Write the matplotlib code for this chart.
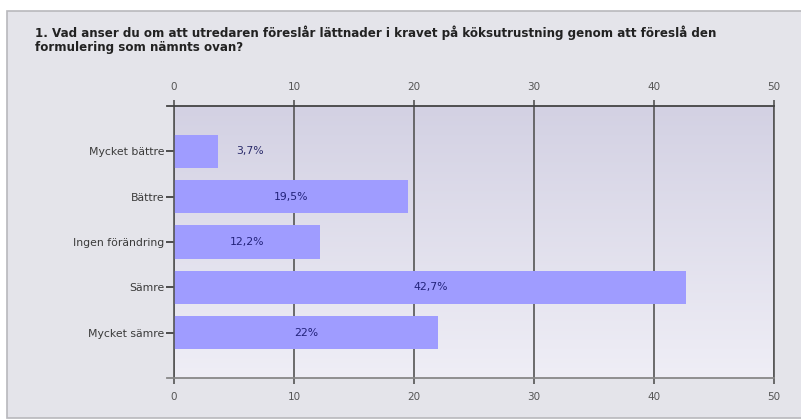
import numpy as np
import matplotlib
matplotlib.use("Agg")
import matplotlib.pyplot as plt
from matplotlib.patches import Rectangle
from matplotlib.colors import LinearSegmentedColormap
from matplotlib.transforms import blended_transform_factory

title = ("1. Vad anser du om att utredaren föreslår lättnader i kravet på köksutrustning genom att föreslå den\n"
         "formulering som nämnts ovan?")
categories = ["Mycket bättre", "Bättre", "Ingen förändring", "Sämre", "Mycket sämre"]
values = [3.7, 19.5, 12.2, 42.7, 22.0]
labels = ["3,7%", "19,5%", "12,2%", "42,7%", "22%"]
xticks = [0, 10, 20, 30, 40, 50]

W, H = 801, 420
fig = plt.figure(figsize=(W / 100, H / 100), dpi=100)
fig.patch.set_facecolor("white")

# grey panel
fig.patches.append(Rectangle((7 / W, 2 / H), 1 - 7 / W + 0.01, (418 - 11) / H,
                             transform=fig.transFigure, facecolor="#e4e4ea",
                             edgecolor="#b8b8bc", linewidth=1.2, zorder=-5))

fig.text(35 / W, 1 - 25 / H, title, ha="left", va="top", fontsize=8.55,
         fontweight="bold", color="#222222", linespacing=1.12)

left, right, top, bottom = 174, 774, 106, 378
ax = fig.add_axes([left / W, 1 - bottom / H, (right - left) / W, (bottom - top) / H])
ax.set_xlim(0, 50)
ax.set_ylim(5, -1)

# gradient background (dark at top, light at bottom)
cmap = LinearSegmentedColormap.from_list("g", ["#d3d1e3", "#efeef6"])
grad = np.linspace(0, 1, 256).reshape(-1, 1)
ax.imshow(grad, cmap=cmap, aspect="auto", extent=[0, 1, 0, 1],
          origin="upper", transform=ax.transAxes, zorder=0)
ax.set_facecolor("none")

y = np.arange(len(categories))
ax.barh(y, values, height=0.73, color="#9f9cff", zorder=2)

for yi, v, lab in zip(y, values, labels):
    if v < 8:
        ax.text(v + 1.5, yi, lab, ha="left", va="center", fontsize=7.8,
                color="#2a2a6a", zorder=3)
    else:
        ax.text(v / 2, yi, lab, ha="center", va="center", fontsize=7.8,
                color="#22227a", zorder=3)

ax.set_xticks(xticks)
ax.xaxis.grid(True, color="#555555", linewidth=1.2, zorder=1)
ax.set_axisbelow(True)
ax.tick_params(axis="x", which="both", top=True, labeltop=True, bottom=True,
               labelbottom=True, length=4, width=1.2, color="#555555",
               labelsize=7.5, labelcolor="#555555", pad=6)
ax.set_yticks(y)
ax.set_yticklabels(categories)
ax.tick_params(axis="y", length=6, width=1.2, color="#333333", labelsize=7.8,
               labelcolor="#3a3a3a", pad=1)

ax.spines["top"].set_color("#444444")
ax.spines["top"].set_linewidth(1.3)
ax.spines["bottom"].set_color("#888888")
ax.spines["bottom"].set_linewidth(1.3)
ax.spines["left"].set_color("#555555")
ax.spines["left"].set_linewidth(1.2)
ax.spines["right"].set_color("#555555")
ax.spines["right"].set_linewidth(1.2)

# short extensions of the axis lines to the left of 0
tr = blended_transform_factory(ax.transAxes, ax.transAxes)
ext = 7 / (right - left)
ax.plot([-ext, 0], [1, 1], color="#444444", lw=1.3, transform=tr, clip_on=False)
ax.plot([-ext, 0], [0, 0], color="#888888", lw=1.3, transform=tr, clip_on=False)

fig.savefig("out.png", dpi=100)
